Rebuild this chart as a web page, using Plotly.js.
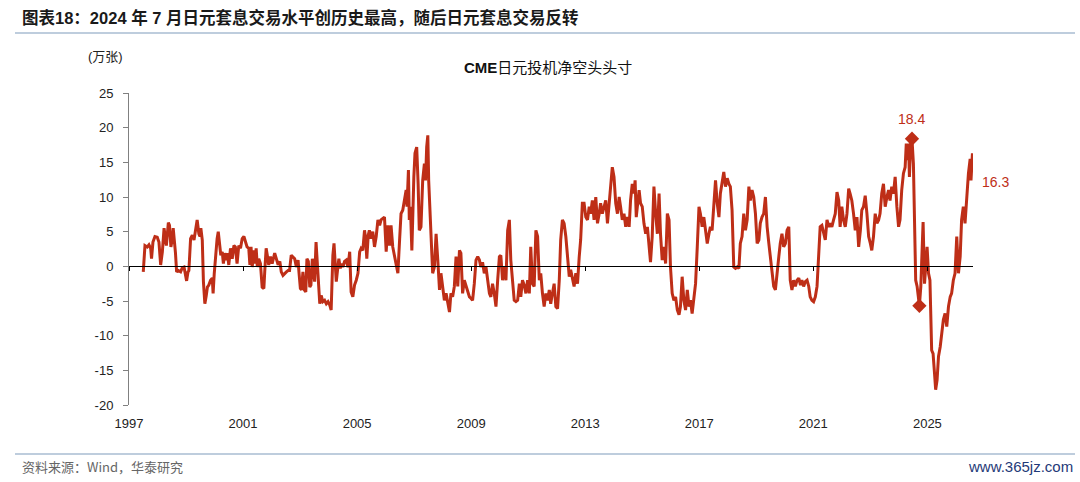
<!DOCTYPE html>
<html>
<head>
<meta charset="utf-8">
<script src="https://cdn.plot.ly/plotly-3.0.1.min.js"></script>
<style>
html,body{margin:0;padding:0;background:#fff;}
#chart{width:1080px;height:482px;}
</style>
</head>
<body>
<div id="chart"></div>
<script>
// ---- Data (CME 日元投机净空头头寸, 万张) ----
const years = [
1997.50,1997.56,1997.64,1997.70,1997.76,1997.79,1997.84,1997.91,1997.99,1998.05,1998.11,1998.17,1998.23,1998.26,1998.31,1998.38,1998.42,1998.47,1998.52,1998.55,1998.60,1998.63,1998.67,1998.73,1998.81,1998.87,1998.93,1998.98,1999.02,1999.07,1999.10,1999.16,1999.22,1999.28,1999.33,1999.39,1999.45,1999.49,1999.52,1999.57,1999.61,1999.66,1999.71,1999.75,1999.80,1999.86,1999.92,1999.95,1999.99,
2000.03,2000.09,2000.13,2000.17,2000.22,2000.27,2000.31,2000.36,2000.41,2000.45,2000.50,2000.56,2000.62,2000.68,2000.73,2000.79,2000.85,2000.91,2000.97,2001.03,2001.08,2001.14,2001.20,2001.24,2001.28,2001.32,2001.38,2001.41,2001.46,2001.50,2001.55,2001.61,2001.67,2001.73,2001.76,2001.81,2001.85,2001.90,2001.96,
2002.02,2002.11,2002.17,2002.23,2002.29,2002.34,2002.40,2002.46,2002.52,2002.58,2002.63,2002.69,2002.75,2002.81,2002.87,2002.93,2002.96,2003.01,2003.05,2003.10,2003.15,2003.20,2003.24,2003.29,2003.34,2003.38,2003.43,2003.48,2003.51,2003.56,2003.59,2003.64,2003.69,2003.74,2003.80,2003.86,2003.92,2003.98,
2004.04,2004.09,2004.15,2004.19,2004.23,2004.27,2004.32,2004.36,2004.41,2004.46,2004.50,2004.56,2004.62,2004.68,2004.74,2004.79,2004.85,2004.91,2004.97,2005.03,2005.09,2005.14,2005.20,2005.26,2005.30,2005.34,2005.39,2005.43,2005.49,2005.55,2005.61,2005.67,2005.73,2005.79,2005.84,2005.90,2005.96,
2006.02,2006.08,2006.14,2006.19,2006.25,2006.43,2006.49,2006.54,2006.60,2006.66,2006.72,2006.75,2006.80,2006.83,2006.87,2006.92,2006.95,2006.99,2007.03,2007.09,2007.14,2007.18,2007.24,2007.30,2007.36,2007.40,2007.44,2007.48,2007.51,2007.56,2007.61,2007.65,2007.71,2007.77,2007.83,2007.89,2007.94,
2008.00,2008.06,2008.12,2008.18,2008.24,2008.29,2008.35,2008.41,2008.47,2008.53,2008.59,2008.64,2008.70,2008.76,2008.82,2008.88,2008.94,2008.99,2009.05,2009.11,2009.17,2009.23,2009.29,2009.34,2009.40,2009.46,2009.52,2009.58,2009.64,2009.69,2009.75,2009.81,2009.87,2009.93,2009.99,
2010.04,2010.10,2010.16,2010.22,2010.28,2010.34,2010.39,2010.45,2010.51,2010.57,2010.63,2010.69,2010.74,2010.80,2010.86,2010.92,2010.98,2011.04,2011.09,2011.15,2011.21,2011.27,2011.33,2011.39,2011.44,2011.50,2011.56,2011.62,2011.68,2011.74,2011.79,2011.85,2011.91,2011.97,
2012.03,2012.09,2012.14,2012.20,2012.26,2012.32,2012.38,2012.44,2012.49,2012.55,2012.61,2012.67,2012.73,2012.79,2012.84,2012.90,2012.96,2013.02,2013.08,2013.14,2013.19,2013.25,2013.31,2013.37,2013.43,2013.49,2013.54,2013.60,2013.66,2013.72,2013.78,2013.84,2013.89,2013.95,
2014.01,2014.07,2014.13,2014.19,2014.24,2014.30,2014.36,2014.42,2014.48,2014.54,2014.59,2014.65,2014.71,2014.75,2014.79,2014.85,2014.89,2014.94,2015.00,2015.06,2015.12,2015.18,2015.24,2015.29,2015.35,2015.41,2015.47,2015.53,2015.59,2015.64,2015.70,2015.76,2015.82,2015.88,2015.94,2015.99,
2016.05,2016.11,2016.17,2016.23,2016.29,2016.34,2016.40,2016.46,2016.52,2016.58,2016.64,2016.69,2016.75,2016.81,2016.87,2016.93,2016.99,2017.04,2017.10,2017.16,2017.22,2017.28,2017.34,2017.39,2017.45,2017.51,2017.57,2017.63,2017.69,2017.74,2017.80,2017.86,2017.92,2017.98,
2018.04,2018.09,2018.15,2018.21,2018.27,2018.33,2018.39,2018.44,2018.50,2018.56,2018.62,2018.68,2018.74,2018.79,2018.85,2018.91,2018.97,2019.03,2019.09,2019.14,2019.20,2019.26,2019.32,2019.38,2019.44,2019.49,2019.55,2019.61,2019.67,2019.73,2019.79,2019.84,2019.90,2019.96,
2020.02,2020.08,2020.14,2020.19,2020.25,2020.31,2020.37,2020.43,2020.49,2020.55,2020.60,2020.66,2020.72,2020.78,2020.84,2020.89,2020.95,2021.01,2021.07,2021.13,2021.19,2021.24,2021.30,2021.36,2021.42,2021.48,2021.54,2021.59,2021.65,2021.71,2021.77,2021.83,2021.89,2021.94,
2022.00,2022.06,2022.12,2022.18,2022.24,2022.29,2022.35,2022.41,2022.47,2022.53,2022.59,2022.65,2022.70,2022.76,2022.82,2022.88,2022.94,2023.00,2023.05,2023.11,2023.17,2023.23,2023.29,2023.34,2023.40,2023.46,2023.52,2023.58,2023.64,2023.69,2023.75,2023.81,2023.87,2023.93,2023.99,
2024.04,2024.10,2024.16,2024.22,2024.26,2024.30,2024.34,2024.37,2024.42,2024.46,2024.51,2024.55,2024.59,2024.64,2024.69,2024.72,2024.77,2024.80,2024.85,2024.90,2024.94,2024.99,
2025.04,2025.09,2025.15,2025.20,2025.25,2025.29,2025.34,2025.39,2025.45,2025.50,2025.56,2025.62,2025.68,2025.74,2025.80,2025.85,2025.91,2025.97,2026.03,2026.09,2026.15,2026.20,2026.26,2026.32,2026.38,2026.44,2026.50,2026.53,2026.58
];
const netShort = [
-0.8,3.0,2.8,3.1,2.6,1.1,3.5,4.3,4.2,3.5,0.2,2.1,5.5,4.5,3.0,6.3,5.9,2.8,4.0,5.5,3.5,1.9,-0.8,-0.6,-0.8,-0.2,-0.1,-1.0,-2.1,-0.8,-0.6,4.0,4.5,3.8,5.2,6.7,4.7,4.3,5.5,3.8,-2.2,-5.4,-4.2,-3.0,-2.7,-2.0,-1.7,-3.9,-1.0,
1.6,4.0,5.0,3.0,1.6,2.1,0.4,1.9,0.9,1.9,0.2,2.6,1.1,3.0,2.8,0.4,3.0,2.6,4.0,4.3,3.5,2.8,2.6,0.2,2.8,-0.1,2.3,0.4,2.6,-0.1,1.1,0.4,-3.0,-3.2,-0.8,2.6,1.6,0.2,1.4,
0.4,1.9,1.1,0.2,0.7,-0.8,-1.3,-1.0,-0.8,-0.6,-0.6,1.6,1.4,1.1,-0.1,0.9,-0.8,-3.2,-3.4,-0.8,-3.4,-3.7,1.1,0.7,-3.0,-2.7,1.1,-0.8,-2.2,3.5,1.6,-2.7,-5.4,-4.2,-5.1,-4.9,-5.4,-5.1,
-5.6,-6.3,1.6,3.3,0.7,-2.2,-0.3,1.1,-0.3,0.4,-0.1,0.7,0.9,-0.1,2.1,-3.7,-4.4,-2.7,-2.0,-1.0,2.1,2.6,2.3,5.2,4.0,1.1,4.5,5.2,4.0,5.0,2.8,4.3,6.7,5.9,6.7,6.9,7.1,
2.1,5.9,3.0,5.9,2.8,-1.0,3.8,7.6,8.1,9.5,11.0,8.6,13.9,6.7,8.6,2.3,7.6,12.9,16.3,17.2,11.9,5.2,5.7,12.4,14.8,12.4,17.2,18.9,12.4,7.6,0.9,-1.0,-0.1,4.7,0.9,-3.4,-1.0,
-2.9,-4.9,-3.9,-5.4,-6.6,-3.9,-4.4,-2.9,1.4,-2.9,2.3,1.9,-3.9,-2.0,-2.9,-3.9,-4.4,-4.6,-4.9,-2.5,0.9,1.4,0.9,-0.1,0.6,-1.0,-0.1,-2.0,-3.9,-4.4,-2.5,-3.9,-5.8,-2.0,1.4,
1.6,-2.0,-0.1,-2.0,5.2,6.7,0.9,-2.0,-4.9,-5.1,-4.9,-2.5,-4.4,-2.0,-2.7,-3.9,-2.0,-3.9,2.8,-2.5,-2.9,5.2,4.3,-2.0,-1.0,-3.9,-5.8,-3.9,-4.9,-3.4,-5.4,-3.9,-2.5,-5.8,
-6.1,-2.0,3.8,6.7,6.2,4.3,0.9,-1.5,-0.5,-2.0,-2.9,-1.0,-2.5,1.4,3.8,9.1,9.1,7.1,6.7,8.6,7.6,9.5,6.7,10.0,6.2,7.6,9.1,7.6,8.6,9.5,6.2,9.1,11.5,14.3,
12.9,9.1,7.6,10.0,8.6,6.7,7.6,5.7,7.1,5.7,9.5,11.9,10.5,12.4,7.1,10.0,11.0,9.1,8.6,6.2,4.7,5.7,2.3,0.6,4.3,11.5,7.6,4.7,10.5,4.7,0.9,2.8,0.4,7.6,6.7,-0.1,
-3.9,-4.9,-4.4,-6.3,-7.0,-5.8,-1.5,-4.9,-6.3,-3.4,-5.8,-4.9,-6.8,-4.4,-2.5,2.8,8.6,7.6,5.7,7.1,5.2,3.3,4.7,5.7,5.2,8.6,12.4,9.1,7.1,10.5,11.9,13.6,11.5,12.7,
11.9,11.5,8.1,-0.1,-0.3,-0.1,-0.3,3.3,4.3,7.6,5.2,6.7,11.5,9.5,11.0,10.0,7.6,3.3,3.8,6.2,7.1,7.6,10.0,5.7,3.3,1.4,-1.0,-2.9,-3.4,-0.5,1.4,3.3,4.7,2.8,
3.3,5.2,5.7,-2.0,-3.4,-2.0,-2.9,-2.0,-1.7,-2.7,-2.0,-2.9,-2.2,-2.0,-2.9,-4.4,-4.9,-5.1,-4.4,-2.9,0.9,5.7,5.9,4.7,3.8,6.7,5.7,6.2,5.7,6.7,7.6,10.7,9.5,5.7,
8.6,6.7,5.7,7.6,11.2,10.5,9.5,7.6,5.2,7.1,2.8,5.2,8.1,8.6,10.2,7.6,4.3,3.3,2.3,4.3,7.6,6.2,6.7,7.6,10.5,11.9,8.6,10.0,11.0,9.5,11.5,10.5,12.9,8.6,5.7,
6.7,11.0,13.4,14.3,17.7,15.3,17.7,12.9,18.2,18.4,14.8,5.2,-2.0,-2.9,-4.9,-5.7,-2.9,1.4,6.4,-2.5,-0.1,2.8,
-1.0,-2.0,-12.1,-12.6,-15.4,-17.8,-16.4,-13.0,-11.6,-9.7,-7.7,-6.8,-8.7,-5.8,-4.4,-3.9,-2.0,-1.0,4.3,-1.0,1.4,6.7,8.6,6.2,10.5,13.4,15.5,12.4,16.3
];
const tickYears = [1997, 2001, 2005, 2009, 2013, 2017, 2021, 2025];
const tickLabels = ["1997", "2001", "2005", "2009", "2013", "2017", "2021", "2025"];
const yTicks = [-20, -15, -10, -5, 0, 5, 10, 15, 20, 25];
const yTickLabels = ["-20", "-15", "-10", "-5", "0", "5", "10", "15", "20", "25"];
const markedYears = [2024.46, 2024.72]; // 2024年7月高点 及 随后低点

const headerText = "图表18：2024 年 7 月日元套息交易水平创历史最高，随后日元套息交易反转";
const chartTitle = "<b>CME</b>日元投机净空头头寸";
const unitText = "(万张)";
const sourceText = "资料来源：Wind，华泰研究";
const siteText = "www.365jz.com";

// ---- Build ----
const RED = "#BE2E17";
const FONT = "Liberation Sans, Arial, Noto Sans CJK SC, sans-serif";
const markIdx = markedYears.map(y => years.indexOf(y));
const markX = markIdx.map(i => years[i]);
const markY = markIdx.map(i => netShort[i]);
const lastX = years[years.length - 1];
const lastY = netShort[netShort.length - 1];

const xRange = [1997, 2026.6];

const traces = [
  {x: years, y: netShort, type: "scatter", mode: "lines", xaxis: "x", yaxis: "y",
   line: {color: RED, width: 3}, hoverinfo: "skip"},
  {x: markX, y: markY, type: "scatter", mode: "markers", xaxis: "x2", yaxis: "y",
   marker: {symbol: "diamond", size: 11, color: RED}, hoverinfo: "skip"}
];

const layout = {
  width: 1080, height: 482,
  margin: {l: 129, r: 107, t: 93, b: 77},
  paper_bgcolor: "#fff", plot_bgcolor: "#fff",
  showlegend: false,
  font: {family: FONT, color: "#222", size: 13},
  xaxis: {
    range: xRange, tickmode: "array", tickvals: tickYears, ticktext: tickLabels,
    showgrid: false, zeroline: false, showline: false, ticks: "",
    ticklabelstandoff: 9,
    tickfont: {size: 13, color: "#222", family: FONT}, fixedrange: true
  },
  xaxis2: {
    range: xRange, overlaying: "x", matches: "x", anchor: "free", position: 20/45,
    tickmode: "array", tickvals: tickYears, showticklabels: false,
    showgrid: false, zeroline: false, showline: true, linecolor: "#000", linewidth: 1,
    ticks: "outside", ticklen: 4, tickcolor: "#000", tickwidth: 1
  },
  yaxis: {
    range: [-20, 25], tickmode: "array", tickvals: yTicks, ticktext: yTickLabels,
    showgrid: false, zeroline: false, showline: true, linecolor: "#808080", linewidth: 1,
    ticks: "outside", ticklen: 5, tickcolor: "#808080", ticklabelstandoff: 7,
    tickfont: {size: 13, color: "#222", family: FONT}, fixedrange: true
  },
  annotations: [
    {xref: "paper", yref: "paper", x: -109/844, y: (405-18)/312, xanchor: "left", yanchor: "middle",
     text: "<b>" + headerText + "</b>", showarrow: false,
     font: {size: 16.5, color: "#1a1a1a", family: "Liberation Sans, Noto Sans CJK SC, sans-serif"}},
    {xref: "paper", yref: "paper", x: (105-129)/844, y: (405-57)/312, xanchor: "center", yanchor: "middle",
     text: unitText, showarrow: false, font: {size: 13, color: "#222", family: "Liberation Sans, Noto Sans CJK SC"}},
    {xref: "paper", yref: "paper", x: (548-129)/844, y: (405-67)/312, xanchor: "center", yanchor: "middle",
     text: chartTitle, showarrow: false, font: {size: 15, color: "#111", family: "Liberation Sans, Noto Sans CJK SC"}},
    {xref: "paper", yref: "paper", x: -109/844, y: (405-466)/312, xanchor: "left", yanchor: "middle",
     text: sourceText, showarrow: false, font: {size: 13, color: "#666", family: "Noto Sans CJK SC, Liberation Sans"}},
    {xref: "paper", yref: "paper", x: (1075-129)/844, y: (405-466)/312, xanchor: "right", yanchor: "middle",
     text: siteText, showarrow: false, font: {size: 15, color: "#1F3A78", family: "Liberation Sans Narrow, Liberation Sans, Arial"}},
    {xref: "x", yref: "y", x: markX[0], y: markY[0], text: markY[0].toFixed(1), showarrow: false,
     yshift: 20, font: {size: 14, color: RED, family: FONT}},
    {xref: "x", yref: "y", x: lastX, y: lastY, text: lastY.toFixed(1), showarrow: false,
     xanchor: "left", xshift: 8, yshift: -29, font: {size: 14, color: RED, family: FONT}}
  ],
  shapes: [
    {type: "line", xref: "paper", yref: "paper", x0: -114/844, x1: 946/844, y0: (405-33)/312, y1: (405-33)/312,
     line: {color: "#A8BCD2", width: 1.5}},
    {type: "line", xref: "paper", yref: "paper", x0: -114/844, x1: 946/844, y0: (405-454)/312, y1: (405-454)/312,
     line: {color: "#A8BCD2", width: 1.5}}
  ]
};

Plotly.newPlot("chart", traces, layout, {displayModeBar: false, staticPlot: true});
</script>
</body>
</html>
